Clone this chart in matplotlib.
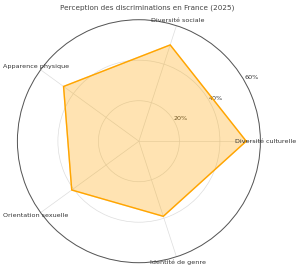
import matplotlib.pyplot as plt
import numpy as np

categories = ['Diversité culturelle', 'Diversité sociale', 'Apparence physique',
              'Orientation sexuelle', 'Identité de genre']
values = [53, 50, 46, 41, 39]
rticks = [20, 40, 60]
rtick_labels = ['20%', '40%', '60%']

n = len(categories)
angles = np.linspace(0, 2 * np.pi, n, endpoint=False).tolist()
vals = values + values[:1]
angs = angles + angles[:1]

fig = plt.figure(figsize=(3, 2.7), dpi=100)
ax = fig.add_subplot(111, projection='polar')
ax.set_position([0.058, 0.027, 0.81, 0.9])

ax.fill(angs, vals, color='#FFA500', alpha=0.3, zorder=2)
ax.plot(angs, vals, color='#FFA500', linewidth=1, zorder=3)

ax.set_xticks(angles)
ax.set_xticklabels([])
# category labels centred just outside the outer ring
for a, lab in zip(angles, categories):
    ax.text(a, 62.8, lab, fontsize=4.6, color='#333333', ha='center', va='center',
            clip_on=False, zorder=5)
ax.set_yticks(rticks)
ax.set_yticklabels(rtick_labels, fontsize=4.6, color='#333333')
ax.set_ylim(0, 60)
ax.set_rlabel_position(30)
ax.grid(color='#dddddd', linewidth=0.5)
ax.spines['polar'].set_color('#555555')
ax.spines['polar'].set_linewidth(0.7)

fig.text(0.49, 0.973, 'Perception des discriminations en France (2025)', fontsize=5.2,
         color='#444444', ha='center', va='center')

plt.savefig('out.png', dpi=100)
